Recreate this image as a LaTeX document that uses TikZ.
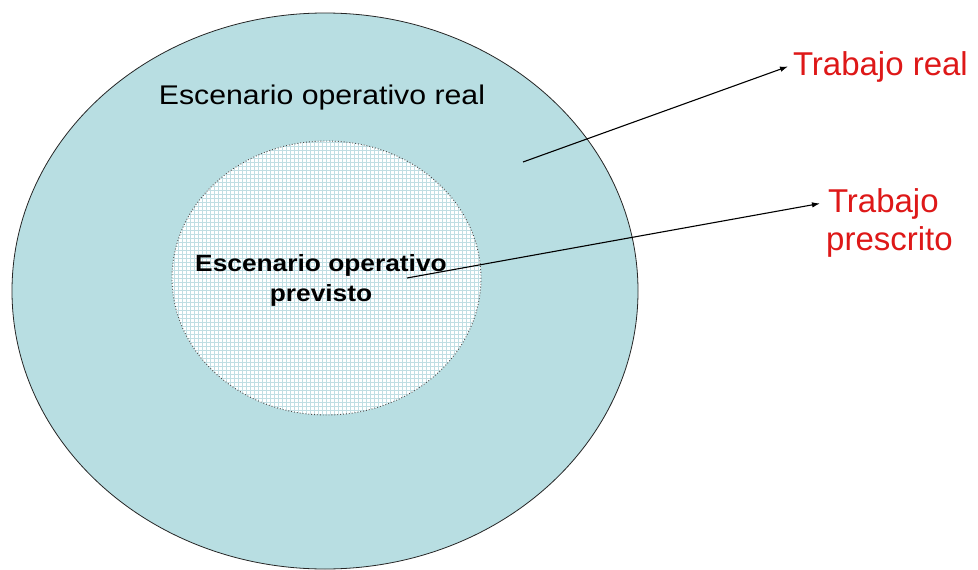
\documentclass[tikz,border=0pt]{standalone}
\usepackage{fontspec}
\setmainfont{Liberation Sans}
\newfontfamily\widesans[FakeStretch=1.12]{Liberation Sans}
\usetikzlibrary{arrows.meta,shapes.geometric}
\definecolor{tealfill}{RGB}{184,222,226}
\definecolor{gridc}{RGB}{192,222,227}
\definecolor{lblred}{RGB}{222,24,24}
\begin{document}
\begin{tikzpicture}[x=1pt,y=-1pt,
  region/.style={ellipse, inner sep=0pt},
  pointer/.style={-{Latex[length=8pt,width=5.5pt]}, line width=1.1pt, black},
  redlbl/.style={text=lblred, font=\fontsize{33}{38}\selectfont, inner sep=0pt}]
\useasboundingbox (0,0) rectangle (978,570);
\fill[white] (0,0) rectangle (978,570);
\node[region, draw=black!85, line width=0.8pt, fill=tealfill,
      minimum width=626pt, minimum height=556pt] (outer) at (325,291) {};
\node[region, fill=white, minimum width=309pt, minimum height=274pt,
      path picture={\draw[gridc, line width=0.6pt, step=4pt]
        ([xshift=-2pt,yshift=-2pt]path picture bounding box.south west) grid
        (path picture bounding box.north east);}] (inner) at (326.5,278) {};
\draw[black!70, dotted, line width=0.9pt] (326.5,278) ellipse [x radius=154.5, y radius=137];
\node[anchor=base, inner sep=0pt, font=\widesans\fontsize{27}{30}\selectfont] (realtxt) at (322,104) {Escenario operativo real};
\node[align=center, inner sep=0pt, font=\widesans\bfseries\fontsize{23.5}{30}\selectfont] (prevtxt) at (321,280) {Escenario operativo\\previsto};
\node[redlbl, anchor=base west, outer xsep=5pt] (tr) at (788,75) {Trabajo real};
\node[redlbl, anchor=base west, outer xsep=8pt] (tp1) at (820,212) {Trabajo};
\node[redlbl, anchor=base west] (tp2) at (826,250) {prescrito};
\coordinate (s1) at (523,162);
\coordinate (s2) at (407,278);
\draw[pointer] (s1) -- (tr.west);
\draw[pointer] (s2) -- (tp1.west);
\end{tikzpicture}
\end{document}
